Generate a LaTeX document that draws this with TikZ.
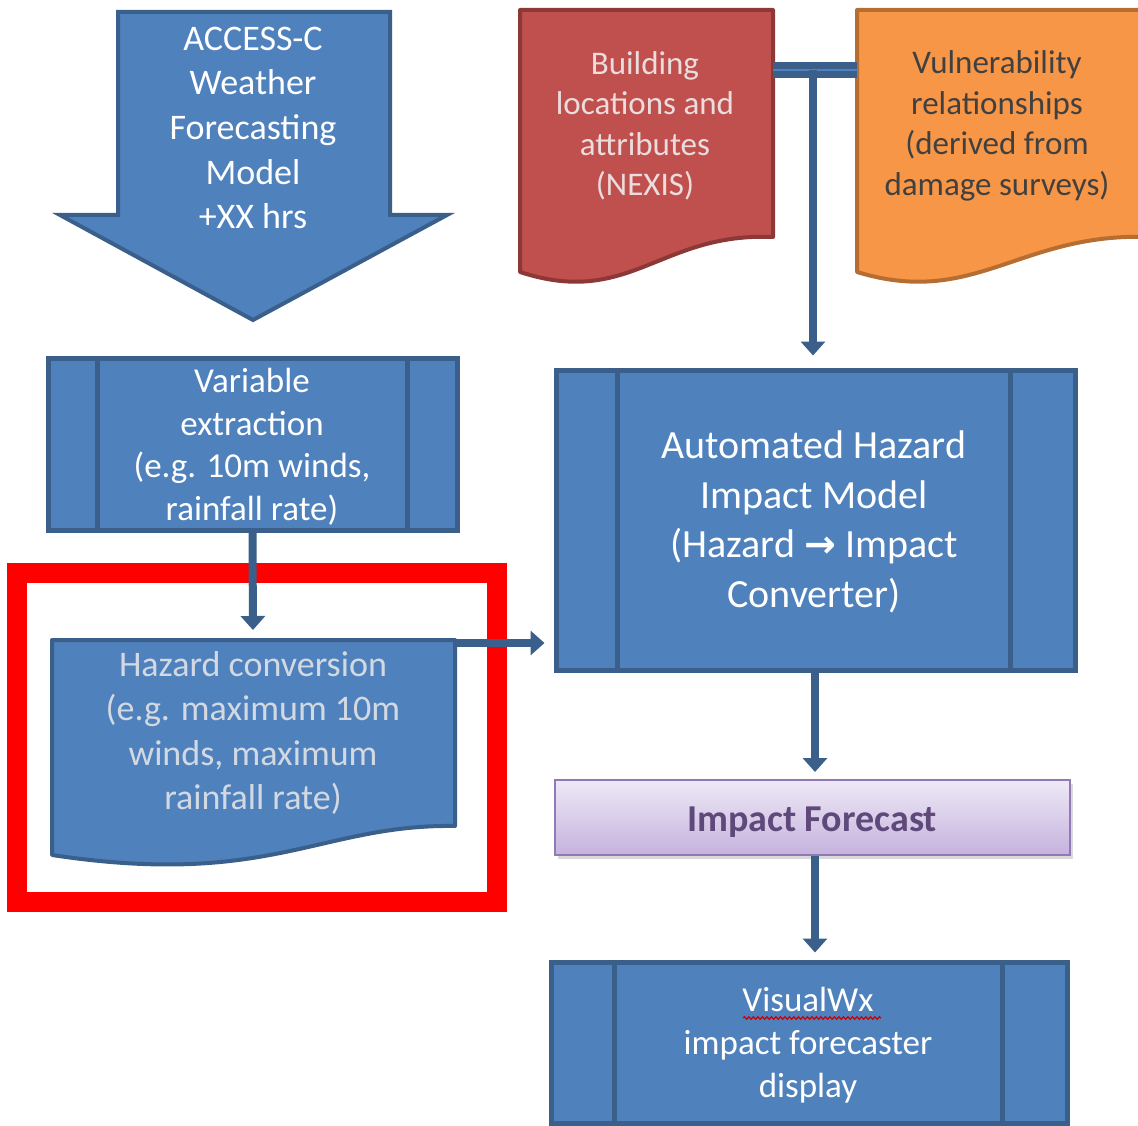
\documentclass[tikz,border=0pt]{standalone}
\usepackage{fontspec}
\setmainfont{Carlito}
\newfontfamily\arrowfont{DejaVu Sans}
\usetikzlibrary{arrows.meta,shadows,decorations.pathmorphing,calc}

\definecolor{bfill}{HTML}{4F81BD}
\definecolor{bline}{HTML}{3A5F8B}
\definecolor{rfill}{HTML}{C0504D}
\definecolor{rline}{HTML}{8C3836}
\definecolor{ofill}{HTML}{F79646}
\definecolor{oline}{HTML}{B66D31}
\definecolor{ptop}{HTML}{EEE9F6}
\definecolor{pbot}{HTML}{C5B2DE}
\definecolor{pline}{HTML}{9079B5}
\definecolor{ptext}{HTML}{5F497A}
\definecolor{darktext}{HTML}{404040}
\definecolor{fadetext}{HTML}{D3D9E2}
\definecolor{redtext}{HTML}{EBDDDD}
\definecolor{hilite}{HTML}{FF0000}

\tikzset{
  procbox/.style={draw=bline, fill=bfill, line width=5pt, inner sep=0pt},
  sideline/.style={draw=bline, line width=5pt},
  txt/.style={align=center, inner sep=0pt, text=white},
  link/.style={draw=bline, line width=8pt, -{Triangle[width=24pt,length=14pt]}},
  plain link/.style={draw=bline, line width=8pt},
  docshape/.style={line width=4pt, line join=round},
  squiggle/.style={draw=red!80!black, line width=1.2pt,
    decorate, decoration={snake, amplitude=1.3pt, segment length=4.5pt}}
}

\begin{document}
\begin{tikzpicture}[x=1pt,y=-1pt]
\useasboundingbox (0,0) rectangle (1138,1126);

% forecast model arrow
\path[draw=bline, fill=bfill, line width=4pt, line join=miter]
  (118,12) -- (390,12) -- (390,215) -- (447,215) -- (253,320)
  -- (60,215) -- (118,215) -- cycle;
\node[txt, font=\fontsize{36}{44.7}\selectfont] (access) at (253,128)
  {ACCESS-C\\Weather\\Forecasting\\Model\\+XX hrs};

% building data document
\path[docshape, draw=rline, fill=rfill]
  (520,10) -- (773,10) -- (773,237)
  .. controls (660,232) and (630,308) .. (520,272) -- cycle;
\node[txt, text=redtext, font=\fontsize{33}{40.5}\selectfont] (bld) at (645,126)
  {Building\\locations and\\attributes\\(NEXIS)};

% vulnerability document
\path[docshape, draw=oline, fill=ofill]
  (857,10) -- (1150,10) -- (1150,237)
  .. controls (1020,232) and (975,308) .. (857,272) -- cycle;
\node[txt, text=darktext, font=\fontsize{33}{40.5}\selectfont] (vul) at (997,126)
  {Vulnerability\\relationships\\(derived from\\damage surveys)};

% variable extraction
\node[procbox, minimum width=409pt, minimum height=172pt] (var) at (252.5,444) {};
\draw[sideline] ([xshift=52pt]var.north west) -- ([xshift=52pt]var.south west);
\draw[sideline] ([xshift=-52pt]var.north east) -- ([xshift=-52pt]var.south east);
\node[txt, font=\fontsize{35}{42.5}\selectfont] (vartxt) at (252,447)
  {Variable\\extraction\\(e.g. 10m winds,\\rainfall rate)};

% hazard conversion document
\path[docshape, draw=bline, fill=bfill]
  (52,640) -- (455,640) -- (455,826)
  .. controls (320,824) and (270,888) .. (52,855) -- cycle;
\coordinate (hcnorth) at (253,640);
\coordinate (hccorner) at (455,643);
\node[txt, text=fadetext, font=\fontsize{36}{44.5}\selectfont] (hc) at (253,733)
  {Hazard conversion\\(e.g. maximum 10m\\winds, maximum\\rainfall rate)};

% automated impact model
\node[procbox, minimum width=519pt, minimum height=300pt] (auto) at (815.5,520) {};
\draw[sideline] ([xshift=64pt]auto.north west) -- ([xshift=64pt]auto.south west);
\draw[sideline] ([xshift=-67pt]auto.north east) -- ([xshift=-67pt]auto.south east);
\node[txt, font=\fontsize{40}{49.5}\selectfont] (autotxt) at (814,522)
  {Automated Hazard\\Impact Model\\(Hazard {\arrowfont\bfseries\fontsize{38}{40}\selectfont →} Impact\\Converter)};

% impact forecast
\node[draw=pline, line width=2pt, top color=ptop, bottom color=pbot,
  minimum width=515pt, minimum height=75pt, inner sep=0pt,
  drop shadow={opacity=0.3, shadow xshift=3pt, shadow yshift=-4pt}]
  (impact) at (812.5,817.5) {};
\node[txt, text=ptext, font=\fontsize{38}{46}\selectfont\bfseries] (impacttxt)
  at (812,822) {Impact Forecast};

% display
\node[procbox, minimum width=516pt, minimum height=161pt] (vis) at (809,1042.5) {};
\draw[sideline] ([xshift=66pt]vis.north west) -- ([xshift=66pt]vis.south west);
\draw[sideline] ([xshift=-67pt]vis.north east) -- ([xshift=-67pt]vis.south east);
\node[txt, font=\fontsize{35}{43}\selectfont] (vistxt) at (808,1045)
  {VisualWx\\impact forecaster\\display};
\draw[squiggle] (743,1018) -- (881,1018);

% highlight frame
\draw[hilite, line width=20pt] (17,573) rectangle (497,902);

% connectors
\coordinate (junction) at (813,70);
\path[plain link] (773,66) -- (857,66);
\path[plain link] (773,74) -- (857,74);
\draw[bfill, line width=1.5pt] (773,70) -- (857,70);
\draw[link, shorten >=12pt] (junction) -- (junction |- auto.north);
\draw[link, shorten >=10pt] (var.south) -- (hcnorth);
\draw[link, shorten >=9pt] (hccorner) -- (hccorner -| auto.west);
\draw[link, shorten >=7pt] (auto.south -| 815,0) -- (impact.north -| 815,0);
\draw[link, shorten >=7pt] (impact.south -| 815,0) -- (vis.north -| 815,0);
\end{tikzpicture}
\end{document}
